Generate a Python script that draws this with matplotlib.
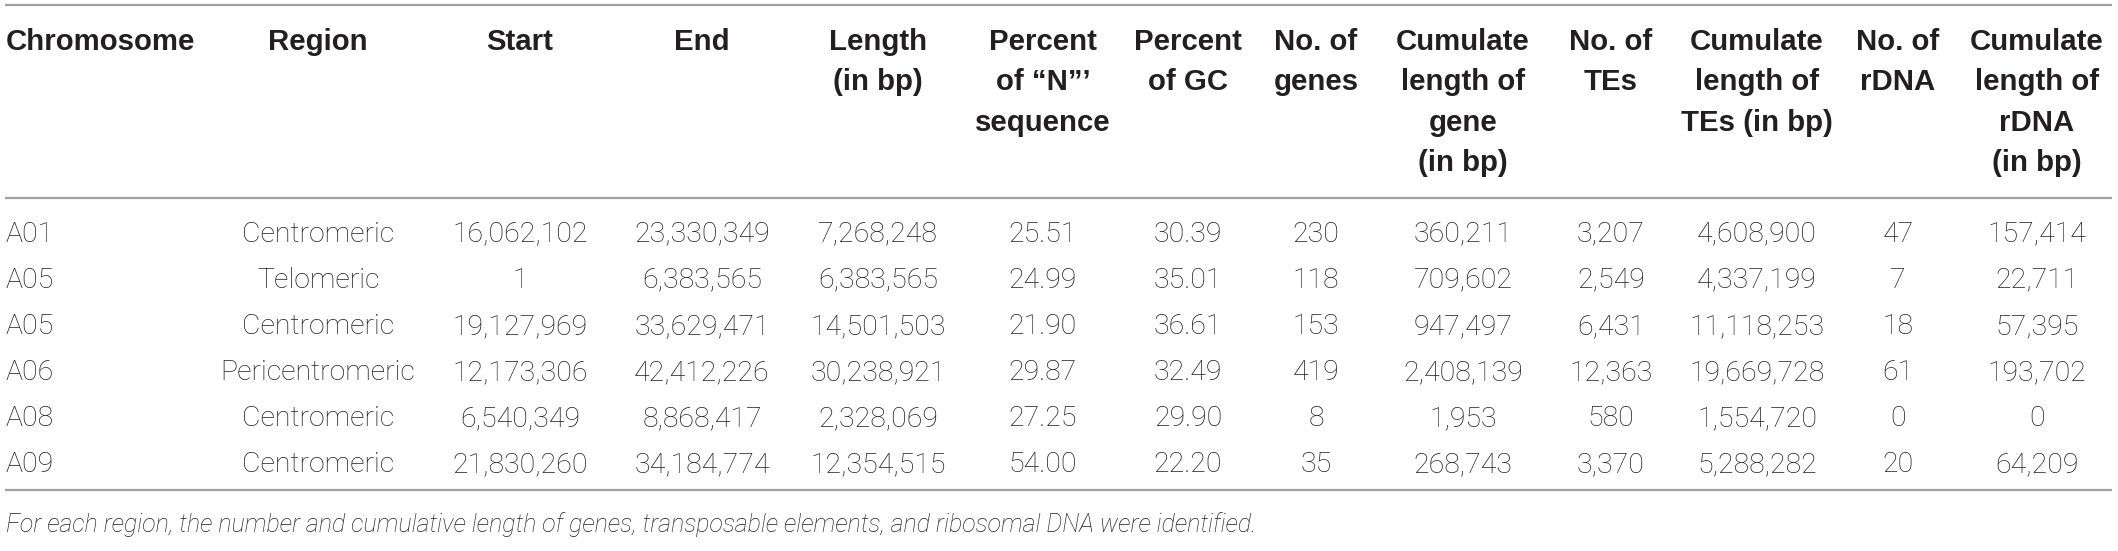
import matplotlib
matplotlib.use('Agg')
import matplotlib.pyplot as plt

# table content
headers = ['Chromosome', 'Region', 'Start', 'End', 'Length\n(in bp)',
           'Percent\nof \u201cN\u201d\u2019\nsequence', 'Percent\nof GC', 'No. of\ngenes',
           'Cumulate\nlength of\ngene\n(in bp)', 'No. of\nTEs',
           'Cumulate\nlength of\nTEs (in bp)', 'No. of\nrDNA',
           'Cumulate\nlength of\nrDNA\n(in bp)']
chromosome = ['A01', 'A05', 'A05', 'A06', 'A08', 'A09']
region = ['Centromeric', 'Telomeric', 'Centromeric', 'Pericentromeric', 'Centromeric', 'Centromeric']
start = [16062102, 1, 19127969, 12173306, 6540349, 21830260]
end = [23330349, 6383565, 33629471, 42412226, 8868417, 34184774]
length = [7268248, 6383565, 14501503, 30238921, 2328069, 12354515]
pct_n = [25.51, 24.99, 21.90, 29.87, 27.25, 54.00]
pct_gc = [30.39, 35.01, 36.61, 32.49, 29.90, 22.20]
n_genes = [230, 118, 153, 419, 8, 35]
len_genes = [360211, 709602, 947497, 2408139, 1953, 268743]
n_tes = [3207, 2549, 6431, 12363, 580, 3370]
len_tes = [4608900, 4337199, 11118253, 19669728, 1554720, 5288282]
n_rdna = [47, 7, 18, 61, 0, 20]
len_rdna = [157414, 22711, 57395, 193702, 0, 64209]
caption = ('For each region, the number and cumulative length of genes, '
           'transposable elements, and ribosomal DNA were identified.')

# layout (pixel units)
W, H = 2118, 551
col_x = [6, 318, 520, 702, 878, 1043, 1188, 1316, 1463, 1611, 1757, 1898, 2037]
row_y0, row_dy = 234, 46.2
head_y0, head_dy = 42, 40.3
text_col = '#231f20'
rule_col = '#a0a0a0'

fig = plt.figure(figsize=(W / 100, H / 100), dpi=100)
ax = fig.add_axes([0, 0, 1, 1])
ax.set_xlim(0, W)
ax.set_ylim(H, 0)
ax.axis('off')

for yy in [5, 198, 490]:
    ax.plot([5, 2112], [yy, yy], color=rule_col, lw=1.6, solid_capstyle='butt')

for i, h in enumerate(headers):
    ha = 'left' if i == 0 else 'center'
    for k, line in enumerate(h.split('\n')):
        ax.text(col_x[i], head_y0 + k * head_dy, line, ha=ha, va='center',
                fontsize=21.2, fontweight='bold', family='Liberation Sans',
                color=text_col)

columns = [chromosome, region,
           [f'{v:,}' for v in start], [f'{v:,}' for v in end],
           [f'{v:,}' for v in length],
           [f'{v:.2f}' for v in pct_n], [f'{v:.2f}' for v in pct_gc],
           [f'{v:,}' for v in n_genes], [f'{v:,}' for v in len_genes],
           [f'{v:,}' for v in n_tes], [f'{v:,}' for v in len_tes],
           [f'{v:,}' for v in n_rdna], [f'{v:,}' for v in len_rdna]]

for i, col in enumerate(columns):
    ha = 'left' if i == 0 else 'center'
    for r, val in enumerate(col):
        ax.text(col_x[i], row_y0 + r * row_dy, val, ha=ha, va='center',
                fontsize=20.5, fontweight='light', family='Roboto',
                color=text_col)

ax.text(6, 525, caption, ha='left', va='center', fontsize=18,
        fontstyle='italic', fontweight='light', family='Roboto', color=text_col)

fig.savefig('out.png', dpi=100)
